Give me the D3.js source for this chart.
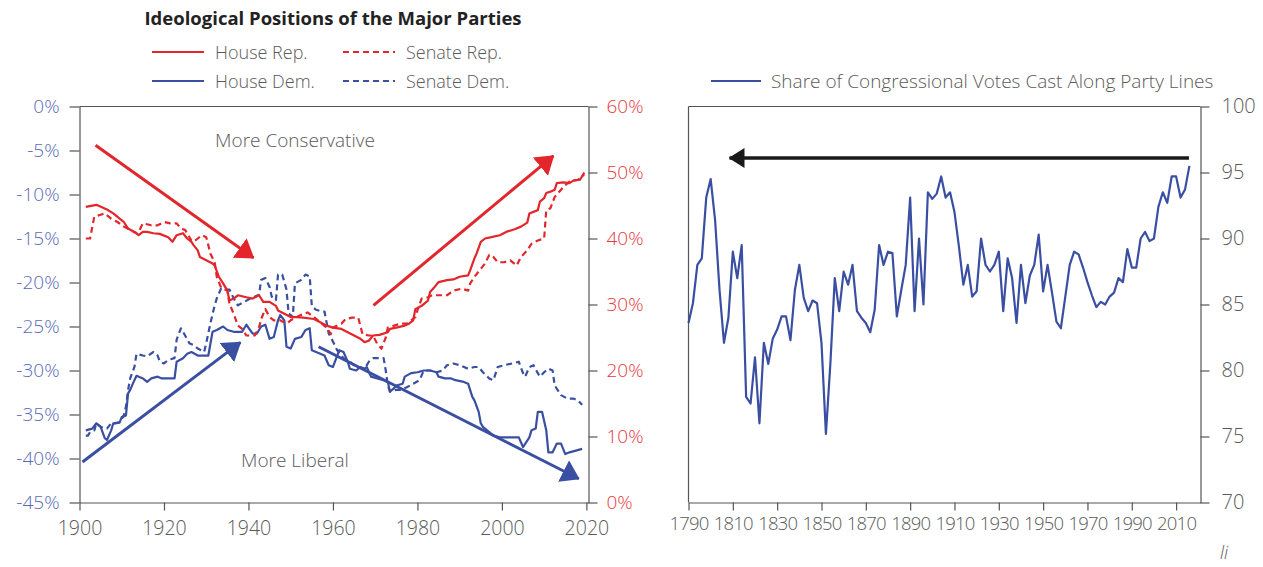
<!DOCTYPE html>
<html>
<head>
<meta charset="utf-8">
<script src="https://cdn.jsdelivr.net/npm/d3@7"></script>
<style>
body { margin: 0; background: #fff; }
svg { font-family: "Open Sans", sans-serif; font-weight: 300; }
.axis path, .axis line { stroke: #555; stroke-width: 1.2; }
</style>
</head>
<body>
<script>
// ---- data: ideological positions (year, value) ----
// republicans are read on the red (right) axis, democrats on the blue (left) axis
var houseRep = [[1901.5,44.8],[1904,45.1],[1906.5,44.4],[1908,43.8],[1909.5,43.0],[1910.5,42.5],[1911.5,41.5],[1913,41.0],[1914,40.5],[1915,41.0],[1916,41.0],[1917.5,40.8],[1919,40.7],[1921,40.2],[1922,39.5],[1923,40.5],[1924.5,40.8],[1925.5,40.0],[1926.5,39.5],[1927,39.0],[1928,38.2],[1928.5,37.2],[1930,36.7],[1931.5,36.2],[1932,35.9],[1933,34.2],[1934,33.2],[1935,32.1],[1935.5,30.6],[1936.5,30.9],[1937.5,31.4],[1939.5,31.1],[1941,30.9],[1942.5,31.4],[1943.5,30.4],[1945,30.4],[1946.5,29.8],[1947,29.1],[1948.5,28.6],[1950,28.1],[1951.5,28.1],[1953,28.0],[1955.5,27.8],[1957,27.3],[1958.5,26.8],[1960,26.5],[1962,26.3],[1963.5,25.8],[1965,25.3],[1966.5,24.8],[1967.5,24.3],[1968.5,24.5],[1969.5,25.3],[1971,25.4],[1973,25.8],[1973.5,26.3],[1975,26.5],[1977,26.8],[1978,27.1],[1979,27.6],[1979.5,29.3],[1981,29.8],[1982.5,30.6],[1983,31.9],[1984,32.6],[1985,33.4],[1987,33.7],[1988.5,33.8],[1990,34.2],[1992,34.4],[1992.5,35.2],[1993.5,37.0],[1994,37.7],[1995,39.5],[1996,40.0],[1997.5,40.2],[1999.5,40.5],[2001,41.0],[2003,41.4],[2004.5,41.8],[2006,42.4],[2006.5,43.8],[2008.5,44.3],[2009,45.6],[2010,46.1],[2010.5,46.9],[2011.5,47.1],[2012.5,47.4],[2013,48.4],[2014.5,48.5],[2016,48.4],[2017,48.8],[2018.5,48.9],[2019.5,50.0]];

var senateRep = [[1901.5,40.0],[1902.5,40.0],[1903.5,43.3],[1905,43.6],[1906,43.8],[1907.5,43.0],[1909,42.5],[1910.5,41.8],[1912,41.3],[1913.5,40.8],[1914,41.0],[1915,42.3],[1917,42.0],[1918.5,42.0],[1920,42.5],[1921.5,42.3],[1923,42.3],[1924,41.5],[1925,41.3],[1926.5,39.7],[1927,39.5],[1928,40.0],[1929,40.5],[1930,40.2],[1931,37.7],[1932,36.4],[1932.5,34.2],[1933.5,32.6],[1935,32.1],[1935.5,30.1],[1936.5,28.6],[1937.5,26.8],[1938.5,26.3],[1939.5,25.3],[1941.5,25.3],[1942.5,26.5],[1943,27.8],[1944,29.3],[1945,28.1],[1946,27.6],[1947.5,27.6],[1949,27.1],[1950,27.6],[1952,28.3],[1954,28.8],[1955.5,28.1],[1957,27.3],[1958.5,26.5],[1959.5,25.5],[1960,26.5],[1962,27.1],[1963,27.8],[1964.5,28.0],[1966,28.0],[1967,25.5],[1968.5,25.3],[1969.5,25.3],[1970.5,24.0],[1971.5,23.3],[1972.5,25.0],[1973,26.5],[1974.5,26.8],[1976,27.1],[1977.5,27.1],[1978.5,27.6],[1979.5,28.1],[1980,29.1],[1981,30.9],[1982.5,31.1],[1983.5,31.4],[1985,31.4],[1987,31.4],[1988.5,32.1],[1990.5,32.4],[1992,32.1],[1992.5,33.2],[1993.5,34.2],[1995,35.4],[1996,36.2],[1997,37.5],[1998,37.2],[1999,36.4],[2000.5,36.4],[2002,36.7],[2003.5,35.9],[2004.5,37.2],[2006,38.2],[2007,39.2],[2008.5,39.7],[2010,40.0],[2010.5,44.3],[2011.5,44.6],[2012.5,46.3],[2014,47.4],[2015,48.1],[2016,48.6],[2018,48.9],[2019.5,49.7]];

var houseDem = [[1901.5,-36.8],[1903,-36.6],[1904,-36.0],[1905,-36.4],[1906,-37.7],[1906.5,-37.9],[1907.5,-36.8],[1908,-36.0],[1909.5,-35.9],[1910,-35.3],[1911,-35.1],[1911.5,-32.6],[1912,-32.2],[1913,-31.1],[1913.5,-30.6],[1915,-30.9],[1916,-31.3],[1917,-30.9],[1918.5,-30.7],[1919.5,-30.9],[1921,-30.9],[1922.5,-30.9],[1923,-29.0],[1924.5,-28.6],[1925.5,-28.1],[1926.5,-27.9],[1928,-28.3],[1929,-28.3],[1930.5,-28.3],[1931.5,-25.6],[1932.5,-25.4],[1934,-25.0],[1935,-25.4],[1936.5,-25.6],[1938.5,-25.6],[1939.5,-24.8],[1941,-25.8],[1942,-25.8],[1943,-25.0],[1944,-24.8],[1945,-26.4],[1946,-26.2],[1947,-24.3],[1947.5,-23.7],[1948.5,-24.3],[1949,-27.3],[1950,-27.5],[1951,-26.4],[1952.5,-26.2],[1953.5,-25.4],[1954.5,-25.2],[1955,-27.7],[1956,-27.9],[1958,-28.3],[1959,-29.4],[1960,-29.6],[1961.5,-27.7],[1962.5,-27.9],[1963.5,-29.0],[1964,-29.8],[1965.5,-30.0],[1966.5,-29.6],[1967.5,-29.8],[1968,-29.6],[1969,-30.7],[1970.5,-30.9],[1972,-31.1],[1973,-31.3],[1973.5,-32.4],[1974.5,-32.0],[1975,-31.7],[1976.5,-31.5],[1977,-30.7],[1978.5,-30.3],[1980,-30.2],[1981.5,-30.0],[1983,-30.0],[1984.5,-30.2],[1985,-30.7],[1986.5,-30.9],[1988,-30.9],[1989,-31.1],[1991,-31.3],[1992,-31.5],[1993,-33.0],[1993.5,-33.4],[1994.5,-34.7],[1995,-36.0],[1995.5,-36.4],[1997,-37.0],[1998,-37.4],[1999.5,-37.6],[2001,-37.6],[2003,-37.6],[2004,-37.6],[2005,-38.7],[2006.5,-37.6],[2007,-36.8],[2008,-36.6],[2008.5,-34.7],[2009.5,-34.7],[2010.5,-36.8],[2011,-39.3],[2012,-39.3],[2013,-38.3],[2014,-38.3],[2015,-39.5],[2016,-39.3],[2017.5,-39.1],[2019,-38.9]];

var senateDem = [[1901.5,-37.4],[1902,-37.4],[1902.5,-37.0],[1903.5,-36.8],[1904,-36.0],[1905,-36.4],[1906,-36.6],[1906.5,-36.6],[1907.5,-36.0],[1908.5,-36.0],[1909.5,-35.9],[1910.5,-35.1],[1911,-34.1],[1911.5,-32.2],[1912,-30.9],[1913,-29.6],[1913.5,-28.1],[1915,-28.3],[1916,-28.4],[1917.5,-27.9],[1918.5,-28.3],[1919,-29.0],[1920,-29.2],[1921,-28.8],[1922.5,-28.6],[1923,-26.5],[1924,-25.2],[1924.5,-25.6],[1926,-26.9],[1927,-27.1],[1928,-27.5],[1929.5,-27.9],[1930,-26.9],[1931,-24.6],[1932,-22.6],[1932.5,-21.8],[1933.5,-20.7],[1934.5,-20.8],[1935.5,-20.8],[1936.5,-21.8],[1937.5,-22.6],[1939,-22.2],[1940.5,-21.8],[1942.5,-21.4],[1943,-19.7],[1944,-19.5],[1945,-20.5],[1945.5,-21.6],[1946.5,-22.0],[1947,-19.1],[1948,-19.1],[1949,-20.8],[1949.5,-23.5],[1950.5,-23.9],[1951,-20.1],[1952.5,-19.7],[1953.5,-19.1],[1954.5,-19.3],[1955,-22.7],[1956,-23.1],[1957.5,-23.3],[1958,-23.3],[1959,-25.8],[1960,-26.7],[1961,-27.7],[1962.5,-28.6],[1964,-29.0],[1965.5,-29.6],[1967.5,-29.8],[1968.5,-29.0],[1969.5,-28.6],[1972,-28.6],[1972.5,-30.0],[1973,-31.7],[1973.5,-32.4],[1975,-32.2],[1976,-32.2],[1977.5,-31.9],[1979,-31.5],[1980.5,-31.1],[1981.5,-30.0],[1983,-30.0],[1984.5,-30.2],[1986,-30.0],[1987,-29.4],[1988.5,-29.2],[1990,-29.4],[1992,-29.8],[1993.5,-29.6],[1994.5,-29.6],[1995.5,-30.2],[1997,-30.9],[1998,-31.1],[1999,-29.6],[2000.5,-29.4],[2002.5,-29.2],[2004,-29.0],[2005,-30.3],[2005.5,-30.7],[2006.5,-29.6],[2007.5,-29.4],[2008.5,-30.3],[2009,-30.7],[2010,-30.2],[2011,-29.8],[2012,-30.0],[2012.5,-31.7],[2014,-32.8],[2015.5,-33.2],[2017,-33.2],[2018,-33.4],[2019,-33.9]];

// ---- data: share of votes along party lines, every 2 years from 1790 ----
var partyYearStart = 1790;
var partyShare = [83.6,85.1,88.0,88.5,93.1,94.5,91.4,86.1,82.1,84.0,
    89.0,87.0,89.5,78.0,77.5,81.0,76.0,82.1,80.5,82.4,
    83.1,84.1,84.1,82.3,86.1,88.0,85.5,84.5,85.3,85.1,
    82.1,75.2,80.5,87.0,84.5,87.5,86.5,88.0,84.5,84.0,
    83.6,82.9,84.6,89.5,88.0,89.0,88.9,84.1,86.1,88.0,
    93.1,84.5,90.0,85.0,93.5,93.0,93.4,94.7,93.1,93.5,
    92.0,89.4,86.5,88.0,85.6,86.0,90.0,88.0,87.5,88.0,
    89.0,84.5,88.5,87.0,83.6,88.0,85.1,87.2,88.0,90.3,
    86.0,88.0,85.9,83.7,83.2,85.6,88.0,89.0,88.8,87.8,
    86.7,85.7,84.8,85.2,85.0,85.6,85.9,87.0,86.7,89.2,
    87.8,87.8,90.0,90.5,89.8,90.0,92.4,93.5,92.7,94.7,
    94.7,93.1,93.7,95.5];

// ---- tick values ----
var leftTicks = [0,-5,-10,-15,-20,-25,-30,-35,-40,-45];
var redTicks = [0,10,20,30,40,50,60];
var yearTicksL = [1900,1920,1940,1960,1980,2000,2020];
var yearTicksR = [1790,1810,1830,1850,1870,1890,1910,1930,1950,1970,1990,2010];
var shareTicks = [70,75,80,85,90,95,100];

// ---- annotation arrows, in data units: [x0, y0, x1, y1] ----
var redArrows = [[1903.8,-4.4,1941.2,-17.2],[1969.6,-22.6,2012.2,-5.6]];
var blueArrows = [[1900.7,-40.4,1938.1,-26.8],[1956.6,-27.3,2018.2,-42.3]];
var blackArrow = [2015.8,96.1,1808.5,96.1];

var RED = "#e2262c", BLUE = "#3a4fa2", TXT = "#5a5a5a";
var FONT = "'Open Sans', sans-serif";

var svg = d3.select("body").append("svg")
    .attr("width", 1263)
    .attr("height", 567);

// arrow heads
var defs = svg.append("defs");
function head(id, color, len, half) {
    defs.append("marker")
        .attr("id", id)
        .attr("markerUnits", "userSpaceOnUse")
        .attr("viewBox", "0 " + (-half) + " " + len + " " + (2 * half))
        .attr("markerWidth", len)
        .attr("markerHeight", 2 * half)
        .attr("refX", len - 1)
        .attr("refY", 0)
        .attr("orient", "auto")
        .append("path")
        .attr("d", "M0," + (-half) + "L" + len + ",0L0," + half + "Z")
        .attr("fill", color);
}
head("hred", RED, 18, 12);
head("hblue", BLUE, 18, 12);
head("hblack", "#1a1a1a", 16, 10);

// ================= left chart =================
var xL = d3.scaleLinear().domain([1900, 2020.5]).range([79.5, 588.5]);
var yB = d3.scaleLinear().domain([-45, 0]).range([502.5, 106.5]);
var yR = d3.scaleLinear().domain([0, 60]).range([502.5, 106.5]);

// top border
svg.append("line")
    .attr("x1", 79.5).attr("x2", 588.5)
    .attr("y1", 106.5).attr("y2", 106.5)
    .attr("stroke", "#555").attr("stroke-width", 1.2);

var axL = svg.append("g").attr("class", "axis")
    .attr("transform", "translate(79.5,0)")
    .call(d3.axisLeft(yB).tickValues(leftTicks).tickSize(10).tickSizeOuter(0)
        .tickPadding(10).tickFormat(function(d) { return d + "%"; }));
axL.selectAll("text").attr("fill", "#5a6bb6");

var axR = svg.append("g").attr("class", "axis")
    .attr("transform", "translate(588.5,0)")
    .call(d3.axisRight(yR).tickValues(redTicks).tickSize(9).tickSizeOuter(0)
        .tickPadding(9).tickFormat(function(d) { return d + "%"; }));
axR.selectAll("text").attr("fill", "#e6393f");

var axB = svg.append("g").attr("class", "axis")
    .attr("transform", "translate(0,502.5)")
    .call(d3.axisBottom(xL).tickValues(yearTicksL).tickSize(8).tickSizeOuter(0)
        .tickPadding(11).tickFormat(d3.format("d")));
axB.selectAll("text").attr("fill", TXT);

[axL, axR, axB].forEach(function(a) {
    a.attr("font-family", FONT);
    a.selectAll("text").style("font-size", "19px").style("font-family", FONT);
});
axB.selectAll("text").style("font-size", "19.5px");

// annotations
svg.append("text").attr("x", 295).attr("y", 147).attr("text-anchor", "middle")
    .attr("fill", TXT).style("font-size", "19px").text("More Conservative");
svg.append("text").attr("x", 295).attr("y", 467).attr("text-anchor", "middle")
    .attr("fill", TXT).style("font-size", "19px").text("More Liberal");

redArrows.forEach(function(a) {
    svg.append("line")
        .attr("x1", xL(a[0])).attr("y1", yB(a[1]))
        .attr("x2", xL(a[2])).attr("y2", yB(a[3]))
        .attr("stroke", RED).attr("stroke-width", 3)
        .attr("marker-end", "url(#hred)");
});
blueArrows.forEach(function(a) {
    svg.append("line")
        .attr("x1", xL(a[0])).attr("y1", yB(a[1]))
        .attr("x2", xL(a[2])).attr("y2", yB(a[3]))
        .attr("stroke", BLUE).attr("stroke-width", 3)
        .attr("marker-end", "url(#hblue)");
});

var lineR = d3.line().x(function(d) { return xL(d[0]); }).y(function(d) { return yR(d[1]); });
var lineB = d3.line().x(function(d) { return xL(d[0]); }).y(function(d) { return yB(d[1]); });

var series = [
    {data: senateDem, line: lineB, color: BLUE, dash: "6,4"},
    {data: houseDem, line: lineB, color: BLUE, dash: null},
    {data: senateRep, line: lineR, color: RED, dash: "6,4"},
    {data: houseRep, line: lineR, color: RED, dash: null}
];
series.forEach(function(s) {
    svg.append("path")
        .datum(s.data)
        .attr("fill", "none")
        .attr("stroke", s.color)
        .attr("stroke-width", 2.2)
        .attr("stroke-linejoin", "round")
        .attr("stroke-dasharray", s.dash)
        .attr("d", s.line);
});

// title + legend
svg.append("text").attr("x", 333).attr("y", 25).attr("text-anchor", "middle")
    .attr("fill", "#222").style("font-size", "18.5px").style("font-weight", 700)
    .text("Ideological Positions of the Major Parties");

var legend = [
    {label: "House Rep.", color: RED, dash: null, x: 152, y: 52},
    {label: "Senate Rep.", color: RED, dash: "6,4", x: 343, y: 52},
    {label: "House Dem.", color: BLUE, dash: null, x: 152, y: 81},
    {label: "Senate Dem.", color: BLUE, dash: "6,4", x: 343, y: 81}
];
legend.forEach(function(l) {
    svg.append("line")
        .attr("x1", l.x).attr("x2", l.x + 52)
        .attr("y1", l.y).attr("y2", l.y)
        .attr("stroke", l.color).attr("stroke-width", 2.2)
        .attr("stroke-dasharray", l.dash);
    svg.append("text").attr("x", l.x + 63).attr("y", l.y + 6.5)
        .attr("fill", TXT).style("font-size", "18px").text(l.label);
});

// ================= right chart =================
var xR = d3.scaleLinear().domain([1790, 2021]).range([688.5, 1200.5]);
var yV = d3.scaleLinear().domain([70, 100]).range([502.5, 106.5]);

svg.append("line")
    .attr("x1", 688.5).attr("x2", 1200.5)
    .attr("y1", 106.5).attr("y2", 106.5)
    .attr("stroke", "#555").attr("stroke-width", 1.2);
svg.append("line")
    .attr("x1", 688.5).attr("x2", 688.5)
    .attr("y1", 106.5).attr("y2", 502.5)
    .attr("stroke", "#555").attr("stroke-width", 1.2);

var axV = svg.append("g").attr("class", "axis")
    .attr("transform", "translate(1200.5,0)")
    .call(d3.axisRight(yV).tickValues(shareTicks).tickSize(9).tickSizeOuter(0).tickPadding(12));
var axX = svg.append("g").attr("class", "axis")
    .attr("transform", "translate(0,502.5)")
    .call(d3.axisBottom(xR).tickValues(yearTicksR).tickSize(8).tickSizeOuter(0)
        .tickPadding(6).tickFormat(d3.format("d")));
[axV, axX].forEach(function(a) {
    a.attr("font-family", FONT);
    a.selectAll("text").attr("fill", TXT).style("font-size", "20px").style("font-family", FONT);
});
axX.selectAll("text").style("font-size", "18.5px").attr("letter-spacing", "-0.8");

svg.append("line")
    .attr("x1", xR(blackArrow[0])).attr("y1", yV(blackArrow[1]))
    .attr("x2", xR(blackArrow[2])).attr("y2", yV(blackArrow[3]))
    .attr("stroke", "#1a1a1a").attr("stroke-width", 3.5)
    .attr("marker-end", "url(#hblack)");

svg.append("path")
    .datum(partyShare)
    .attr("fill", "none")
    .attr("stroke", BLUE)
    .attr("stroke-width", 2.2)
    .attr("stroke-linejoin", "round")
    .attr("d", d3.line()
        .x(function(d, i) { return xR(partyYearStart + 2 * i); })
        .y(function(d) { return yV(d); }));

svg.append("line")
    .attr("x1", 711).attr("x2", 761).attr("y1", 81).attr("y2", 81)
    .attr("stroke", BLUE).attr("stroke-width", 2.2);
svg.append("text").attr("x", 771).attr("y", 87.5)
    .attr("fill", TXT).style("font-size", "19px")
    .text("Share of Congressional Votes Cast Along Party Lines");

svg.append("text").attr("x", 1220).attr("y", 559)
    .attr("fill", TXT).style("font-size", "18px").style("font-style", "italic")
    .text("li");
</script>
</body>
</html>
